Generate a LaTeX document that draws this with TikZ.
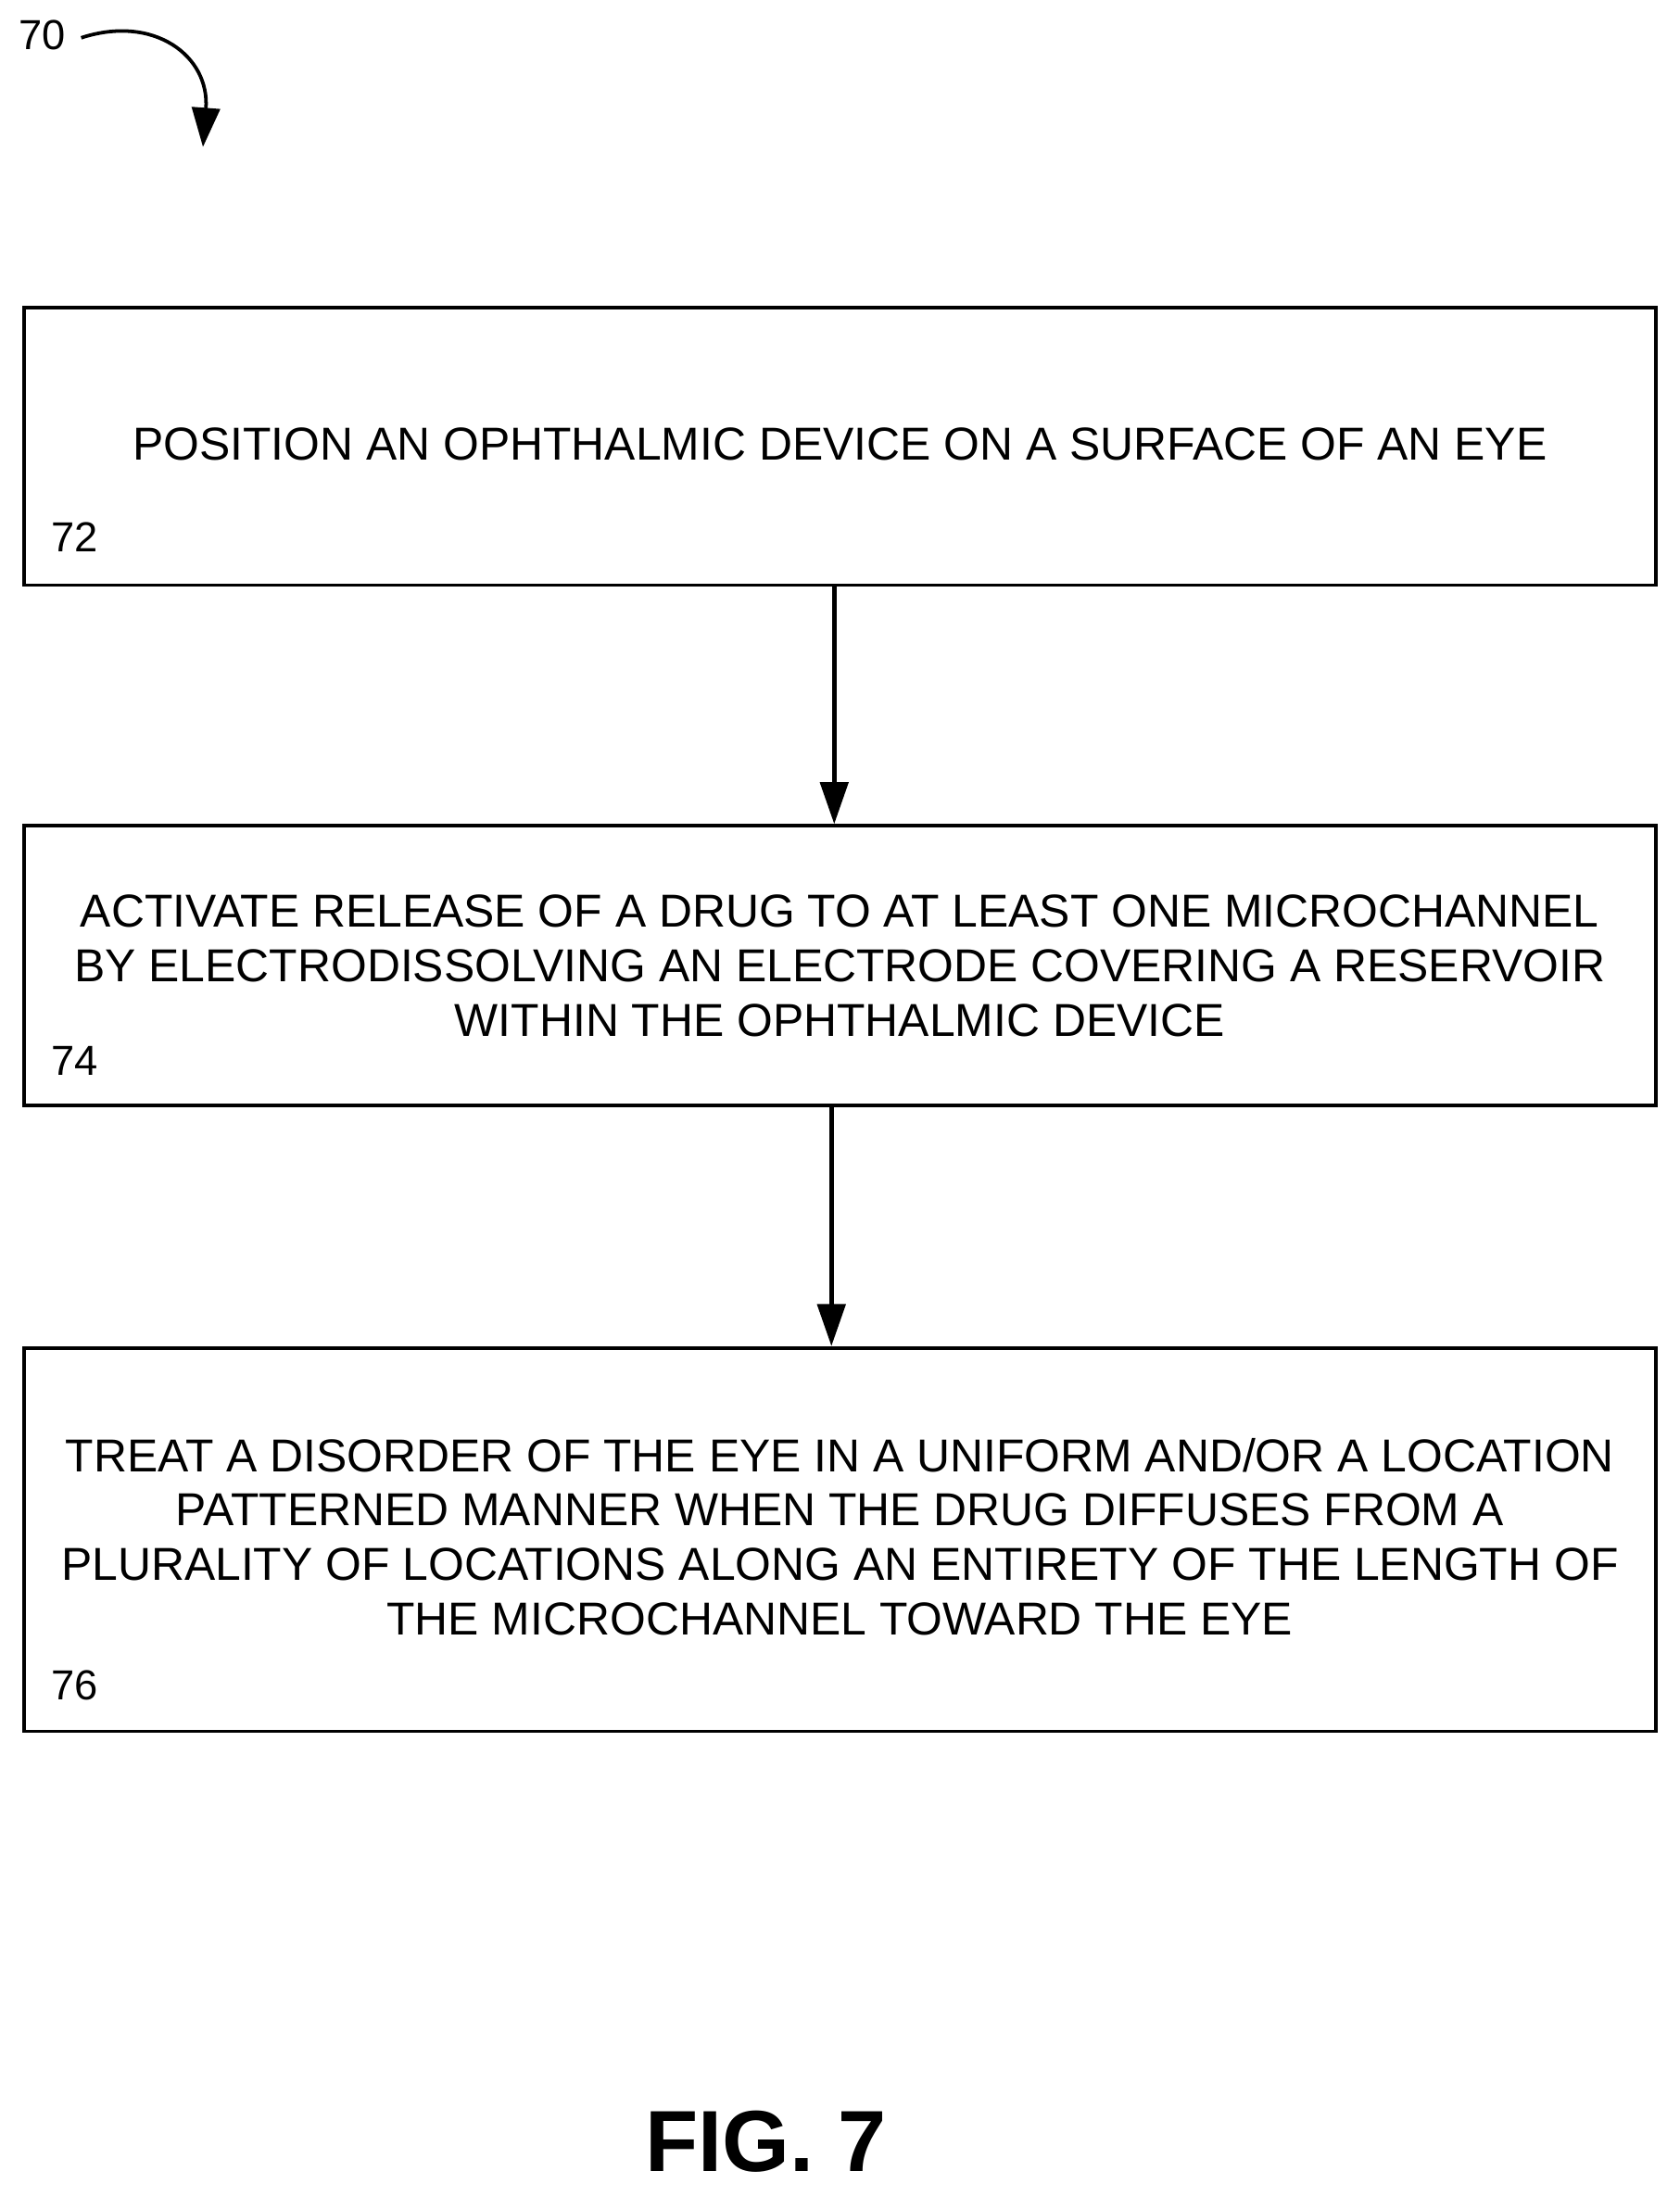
\documentclass[tikz,border=0pt]{standalone}
\usepackage{fontspec}
\setmainfont{Liberation Sans}
\usetikzlibrary{arrows.meta}
\begin{document}
\begin{tikzpicture}[x=1pt,y=-1pt,
  box/.style={draw,line width=2.5pt},
  txt/.style={font=\fontsize{33}{39}\selectfont,align=center},
  lab/.style={font=\fontsize{30}{34}\selectfont,anchor=west},
  arr/.style={line width=3pt,-{Triangle[length=30pt,width=20pt]}}]
\useasboundingbox (0,0) rectangle (1200,1569);
\node[box,minimum width=1166pt,minimum height=198pt] (b1) at (600,319) {};
\node[box,minimum width=1166pt,minimum height=200pt] (b2) at (600,690) {};
\node[box,minimum width=1166pt,minimum height=274pt] (b3) at (600,1100) {};
\node[txt] (t1) at (600,317) {POSITION AN OPHTHALMIC DEVICE ON A SURFACE OF AN EYE};
\node[lab] (l1) at (33,384) {72};
\node[txt] (t2) at (600,690) {ACTIVATE RELEASE OF A DRUG TO AT LEAST ONE MICROCHANNEL\\BY ELECTRODISSOLVING AN ELECTRODE COVERING A RESERVOIR\\WITHIN THE OPHTHALMIC DEVICE};
\node[lab] (l2) at (33,758) {74};
\node[txt] (t3) at (600,1098) {TREAT A DISORDER OF THE EYE IN A UNIFORM AND/OR A LOCATION\\PATTERNED MANNER WHEN THE DRUG DIFFUSES FROM A\\PLURALITY OF LOCATIONS ALONG AN ENTIRETY OF THE LENGTH OF\\THE MICROCHANNEL TOWARD THE EYE};
\node[lab] (l3) at (33,1204) {76};
\draw[arr] (b1.south -| 596,0) -- (b2.north -| 596,0);
\draw[arr] (b2.south -| 594,0) -- (b3.north -| 594,0);
\node[font=\fontsize{30}{34}\selectfont] (n70) at (30,25) {70};
\coordinate (s70) at (58,27);
\coordinate (c70) at (145,105);
\draw[line width=2.5pt,-{Triangle[length=28pt,width=20pt]}] (s70) .. controls (110,10) and (150,40) .. (c70);
\node[font=\bfseries\fontsize{62}{70}\selectfont] (fig) at (547,1530) {FIG. 7};
\end{tikzpicture}
\end{document}
